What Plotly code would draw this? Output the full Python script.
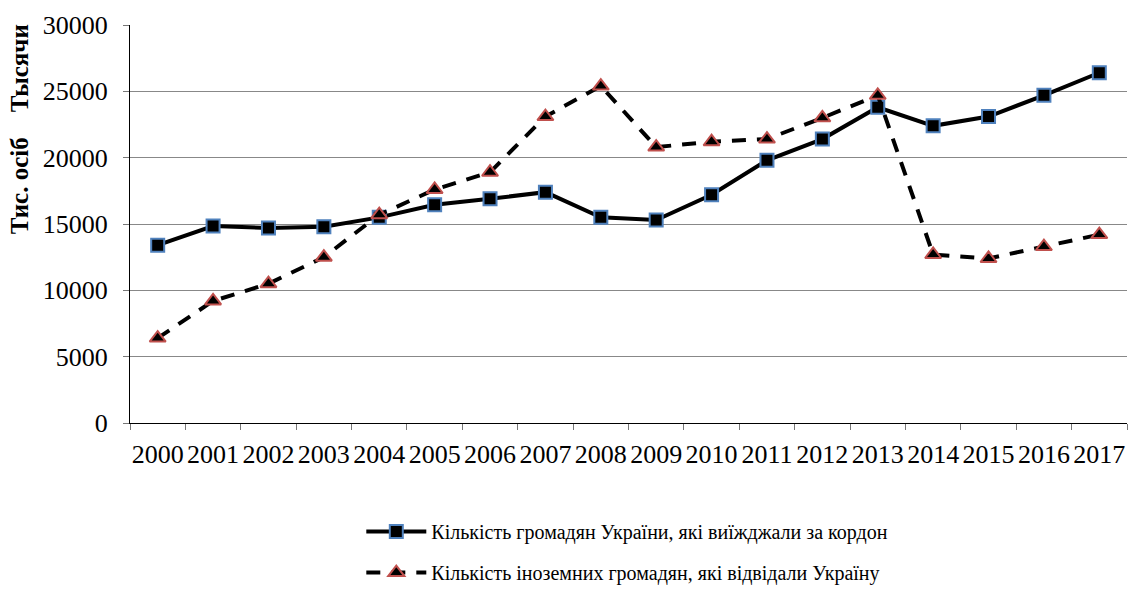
import plotly.graph_objects as go

years = [str(y) for y in range(2000, 2018)]
ukr_abroad = [13400, 14850, 14700, 14800, 15500, 16450, 16900, 17400, 15500, 15300,
              17200, 19800, 21400, 23800, 22400, 23100, 24700, 26400]
foreign_visit = [6400, 9200, 10500, 12500, 15700, 17600, 18900, 23100, 25400, 20800,
                 21200, 21400, 23000, 24700, 12700, 12400, 13300, 14200]
name1 = "Кількість громадян України, які виїжджали за кордон"
name2 = "Кількість іноземних громадян, які відвідали Україну"
y_title = "Тис. осіб    Тысячи"

font = "Liberation Serif"

fig = go.Figure()
fig.add_trace(go.Scatter(
    x=years, y=ukr_abroad, name=name1, mode="lines+markers", legendgroup="a",
    line=dict(color="black", width=4),
    marker=dict(symbol="square", size=13, color="black", line=dict(color="#4F81BD", width=2)),
))
fig.add_trace(go.Scatter(
    x=years, y=foreign_visit, name=name2, mode="lines+markers", legendgroup="b",
    line=dict(color="black", width=4, dash="14px,11px"),
    marker=dict(symbol="triangle-up", size=14, color="black", line=dict(color="#C0504D", width=2)),
))

fig.add_annotation(
    text="<b>" + y_title + "</b>", xref="paper", yref="paper",
    x=-0.111, y=(423 - 129) / 398, xanchor="center", yanchor="middle",
    textangle=-90, showarrow=False, font=dict(family=font, size=25, color="black"),
)
fig.update_layout(
    template="none",
    width=1128, height=590,
    paper_bgcolor="white", plot_bgcolor="white",
    margin=dict(l=130, r=1, t=25, b=167),
    font=dict(family=font, color="black", size=26),
    showlegend=True,
    legend=dict(x=0.232, xanchor="left", yref="container", y=0.132, yanchor="top",
                font=dict(family=font, size=20, color="black"), traceorder="grouped",
                tracegroupgap=12, itemwidth=60, bgcolor="rgba(0,0,0,0)"),
    xaxis=dict(type="category", tickson="boundaries", ticks="outside", ticklen=6,
               tickcolor="#777", showline=True, linecolor="black", linewidth=1,
               showgrid=False, tickfont=dict(family=font, size=26, color="black"),
               tickangle=0, ticklabelstandoff=8, range=[-0.5, 17.5], automargin=False),
    yaxis=dict(range=[0, 30000], dtick=5000, tickformat="d", ticks="outside", ticklen=6,
               tickcolor="#777", showline=True, linecolor="black", linewidth=1,
               showgrid=True, gridcolor="#888", gridwidth=1, zeroline=False,
               tickfont=dict(family=font, size=26, color="black"),
               ticklabelstandoff=10, automargin=False),
)
fig.write_html("out.html", config={"displayModeBar": False},
               post_script="document.body.style.margin='0';")
